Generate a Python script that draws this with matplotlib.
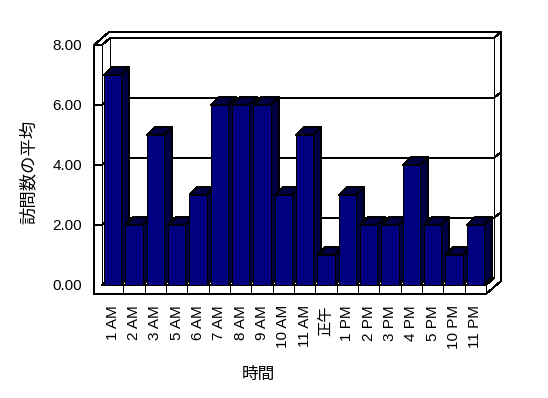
import matplotlib
matplotlib.use('Agg')
import matplotlib.pyplot as plt
from matplotlib.patches import Polygon

plt.rcParams['font.family'] = ['Liberation Sans', 'Noto Sans CJK JP']

categories = ['1 AM', '2 AM', '3 AM', '5 AM', '6 AM', '7 AM', '8 AM', '9 AM', '10 AM',
              '11 AM', '正午', '1 PM', '2 PM', '3 PM', '4 PM', '5 PM', '10 PM', '11 PM']
values = [7, 2, 5, 2, 3, 6, 6, 6, 3, 5, 1, 3, 2, 2, 4, 2, 1, 2]
y_ticks = [0, 2, 4, 6, 8]
y_title = '訪問数の平均'
x_title = '時間'

FW, FH = 548, 398
fig = plt.figure(figsize=(FW / 100, FH / 100), dpi=100)
L, R, T, B = 102, 486, 45, 285
ax = fig.add_axes([L / FW, (FH - B) / FH, (R - L) / FW, (B - T) / FH])
n = len(categories)
ymax = y_ticks[-1]
ax.set_xlim(-0.5, n - 0.5)
ax.set_ylim(0, ymax)
ax.patch.set_visible(False)
for s in ax.spines.values():
    s.set_visible(False)

sx = n / (R - L)
sy = ymax / (B - T)


def P(xd, yd, ox=0, oy=0):
    return (xd + ox * sx, yd + oy * sy)


LW = 0.72
AA = False
x0, x1 = -0.5, n - 0.5
DX, DY = 8, 7        # chart depth (px)
TX, TY = 15, 13      # depth incl. wall thickness
WL = 8               # left wall thickness
FT = 9               # floor thickness


def line(pts, z=1.0):
    xs, ys = zip(*pts)
    ax.plot(xs, ys, color='black', lw=LW, clip_on=False, zorder=z,
            solid_joinstyle='miter', antialiased=AA)


# silhouette of walls + floor
sil = Polygon([P(x0, 0, -WL, -FT), P(x0, ymax, -WL, 0), P(x0, ymax, -WL + TX, TY),
               P(x1, ymax, TX, TY), P(x1, 0, TX, TY - FT), P(x1, 0, 0, -FT)],
              closed=True, facecolor='white', edgecolor='black', lw=LW,
              clip_on=False, zorder=0.5, antialiased=AA)
ax.add_patch(sil)
line([P(x0, ymax, -WL, 0), P(x0, ymax), P(x0, ymax, DX, DY), P(x1, ymax, DX, DY),
      P(x1, ymax, TX, TY)])
line([P(x0, ymax), P(x0, 0)])
line([P(x0, ymax, DX, DY), P(x0, 0, DX, DY)])
line([P(x1, ymax, DX, DY), P(x1, 0, DX, DY)])
line([P(x0, 0), P(x1, 0), P(x1, 0, DX, DY)])
line([P(x0, 0), P(x0, 0, DX, DY), P(x1, 0, DX, DY)])
line([P(x1, 0), P(x1, 0, 0, -FT)])
for k in range(1, n):
    line([P(x0 + k, 0), P(x0 + k, 0, 0, -FT)])
for v in y_ticks[1:-1]:
    line([P(x0, v, -WL, 0), P(x0, v), P(x0, v, DX, DY), P(x1, v, DX, DY),
          P(x1, v, TX, TY)])

# bars
BDX, BDY = 8, 8
bw = 0.8
bars = ax.bar(range(n), values, width=bw, color='#000080', edgecolor='black',
              lw=LW, clip_on=False, antialiased=AA)
side_c = '#000040'
for i, (rect, v) in enumerate(zip(bars, values)):
    lft, rgt = i - bw / 2, i + bw / 2
    z = 2 + 3 * i
    side = Polygon([P(rgt, 0), P(rgt, 0, BDX, BDY), P(rgt, v, BDX, BDY), P(rgt, v)],
                   closed=True, facecolor=side_c, edgecolor='black', lw=LW,
                   clip_on=False, zorder=z, antialiased=AA)
    top = Polygon([P(lft, v), P(lft, v, BDX, BDY), P(rgt, v, BDX, BDY), P(rgt, v)],
                  closed=True, facecolor=side_c, edgecolor='black', lw=LW,
                  clip_on=False, zorder=z + 1, antialiased=AA)
    ax.add_patch(side)
    ax.add_patch(top)
    rect.set_zorder(z + 2)

ax.set_yticks(y_ticks)
ax.set_yticklabels([f'{v:.2f}' for v in y_ticks])
ax.set_xticks(range(n))
ax.set_xticklabels(categories, rotation=90)
ax.tick_params(axis='y', length=0, pad=14.4, labelsize=11)
ax.tick_params(axis='x', length=0, pad=14.4, labelsize=11)

fig.text(258.5 / FW, 1 - 374 / FH, x_title, ha='center', va='center', fontsize=12)
fig.text(28.5 / FW, 1 - 172 / FH, y_title, ha='center', va='center', rotation=90,
         fontsize=12.5)

fig.savefig('out.png', dpi=100)
